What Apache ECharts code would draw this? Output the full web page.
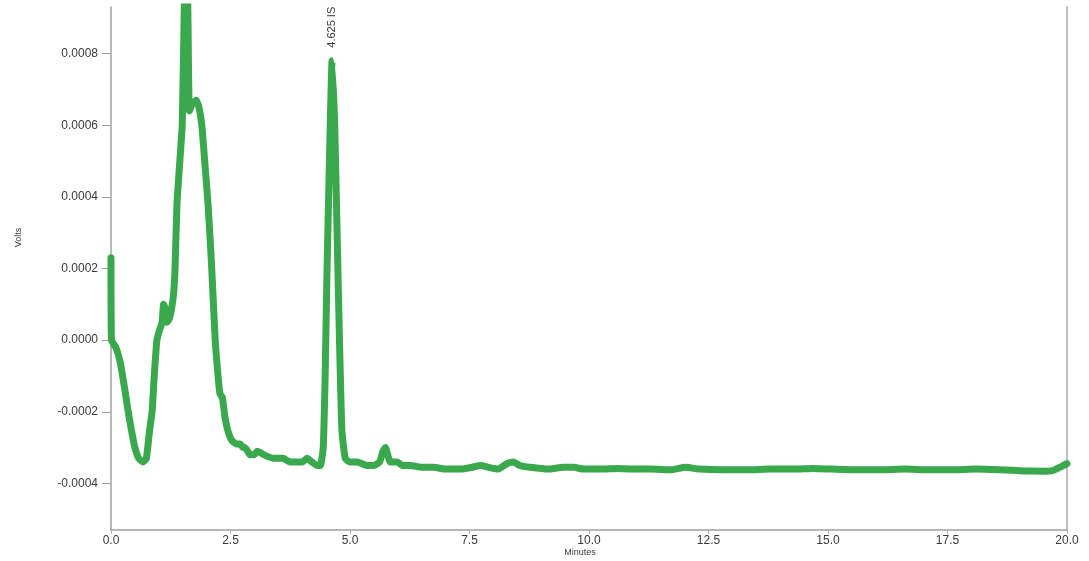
<!DOCTYPE html>
<html>
<head>
<meta charset="utf-8">
<script src="https://cdn.jsdelivr.net/npm/echarts@6/dist/echarts.min.js"></script>
<style>
  html, body { margin: 0; padding: 0; background: #ffffff; }
  #chart { width: 1089px; height: 561px; }
</style>
</head>
<body>
<div id="chart"></div>
<script>
// Retention time (minutes) of each detector sample
const minutes = [
  0, 0.01, 0.1, 0.19, 0.28, 0.36, 0.44, 0.5, 0.58, 0.67, 0.74, 0.8, 0.86, 0.9, 0.96,
  1.02, 1.07, 1.1, 1.13, 1.17, 1.22, 1.27, 1.31, 1.34, 1.38, 1.44, 1.49, 1.53, 1.57,
  1.61, 1.64, 1.7, 1.78, 1.84, 1.9, 1.96, 2.03, 2.1, 2.18, 2.24, 2.28, 2.33, 2.39,
  2.46, 2.53, 2.62, 2.7, 2.76, 2.8, 2.86, 2.91, 3.0, 3.06, 3.2, 3.4, 3.6, 3.75, 3.9,
  4.0, 4.1, 4.2, 4.31, 4.38, 4.44, 4.48, 4.52, 4.57, 4.625, 4.68, 4.73, 4.78, 4.83,
  4.9, 5.0, 5.15, 5.36, 5.5, 5.62, 5.69, 5.74, 5.79, 5.84, 5.92, 5.99, 6.1, 6.26,
  6.5, 6.75, 7.0, 7.31, 7.55, 7.73, 7.9, 8.1, 8.28, 8.42, 8.55, 8.77, 9.13, 9.47,
  9.68, 9.89, 10.24, 10.6, 10.9, 11.3, 11.7, 12.02, 12.3, 12.8, 13.3, 13.8, 14.3,
  14.7, 15.1, 15.6, 16.1, 16.6, 17.1, 17.6, 18.1, 18.6, 19.1, 19.5, 19.7, 19.85, 20.0
];

// Detector response (volts) at each of those times
const volts = [
  0.00023, 0.0, -0.00002, -0.00006, -0.00013, -0.0002, -0.00026, -0.0003, -0.00033, -0.00034, -0.00033, -0.00026, -0.0002, -0.00011, 0.0,
  0.00003, 0.00005, 0.0001, 0.00009, 0.00005, 0.00006, 0.00009, 0.00013, 0.0002, 0.00038, 0.0005, 0.0006, 0.0009, 0.0012,
  0.0009, 0.00064, 0.00066, 0.00067, 0.00065, 0.0006, 0.0005, 0.00038, 0.00022, 0.0, -0.0001, -0.00015, -0.00016, -0.00022,
  -0.00026, -0.00028, -0.00029, -0.00029, -0.0003, -0.0003, -0.00031, -0.00032, -0.00032, -0.00031, -0.00032, -0.00033, -0.00033, -0.00034, -0.00034,
  -0.00034, -0.00033, -0.00034, -0.00035, -0.00035, -0.0003, -0.0001, 0.0002, 0.0005, 0.00078, 0.0006, 0.0003, 0.0, -0.00025,
  -0.00033, -0.00034, -0.00034, -0.00035, -0.00035, -0.00034, -0.00031, -0.0003, -0.00032, -0.00034, -0.00034, -0.00034, -0.00035, -0.00035,
  -0.000355, -0.000355, -0.00036, -0.00036, -0.000355, -0.00035, -0.000355, -0.00036, -0.000345, -0.00034, -0.00035, -0.000355, -0.00036, -0.000355,
  -0.000355, -0.00036, -0.00036, -0.000358, -0.00036, -0.00036, -0.000362, -0.000355, -0.00036, -0.000362, -0.000362, -0.00036, -0.00036,
  -0.000358, -0.00036, -0.000362, -0.000362, -0.00036, -0.000362, -0.000362, -0.00036, -0.000362, -0.000365, -0.000366, -0.000364, -0.000355, -0.000345
];

// Axis tick values
const yTicks = [-0.0004, -0.0002, 0.0, 0.0002, 0.0004, 0.0006, 0.0008];
const xTicks = [0, 2.5, 5, 7.5, 10, 12.5, 15, 17.5, 20];

// Labelled peak: retention time and name
const peakTime = 4.625;
const peakName = 'IS';

const yMin = -0.00053;
const yMax = 0.00093;

const trace = minutes.map((t, i) => [t, volts[i]]);
const peakVolts = volts[minutes.indexOf(peakTime)];

const chart = echarts.init(document.getElementById('chart'));
const labelFont = { fontFamily: 'Liberation Sans, Arial, sans-serif', color: '#3a3a3a' };

chart.setOption({
  animation: false,
  backgroundColor: '#ffffff',
  grid: { left: 111, right: 22, top: 7, bottom: 31, outerBoundsMode: 'none', containLabel: false },
  xAxis: {
    type: 'value',
    min: 0,
    max: 20,
    interval: 2.5,
    name: 'Minutes',
    nameLocation: 'middle',
    nameGap: 18,
    nameMoveOverlap: false,
    nameTextStyle: Object.assign({ fontSize: 9, padding: [0, 18, 0, 0] }, labelFont),
    axisLine: { show: true, onZero: false, lineStyle: { color: '#a0a0a0', width: 1.5 } },
    axisTick: { show: true, length: 4, lineStyle: { color: '#b0b0b0' }, customValues: xTicks },
    axisLabel: Object.assign({
      fontSize: 12,
      margin: 5,
      customValues: xTicks,
      formatter: v => v.toFixed(1)
    }, labelFont),
    splitLine: { show: false }
  },
  yAxis: [{
    type: 'value',
    min: yMin,
    max: yMax,
    name: 'Volts',
    nameLocation: 'middle',
    nameGap: 88,
    nameMoveOverlap: false,
    nameTextStyle: Object.assign({ fontSize: 9, padding: [0, 0, 0, 62] }, labelFont),
    axisLine: { show: true, onZero: false, lineStyle: { color: '#a0a0a0', width: 1.5 } },
    axisTick: { show: true, length: 9, lineStyle: { color: '#a0a0a0' }, customValues: yTicks },
    axisLabel: Object.assign({
      fontSize: 12,
      margin: 13,
      customValues: yTicks,
      formatter: v => v.toFixed(4)
    }, labelFont),
    splitLine: { show: false }
  }, {
    type: 'value',
    position: 'right',
    min: yMin,
    max: yMax,
    axisLine: { show: true, onZero: false, lineStyle: { color: '#a8a8a8', width: 1.5 } },
    axisTick: { show: false },
    axisLabel: { show: false },
    splitLine: { show: false }
  }],
  series: [{
    type: 'line',
    data: trace,
    showSymbol: false,
    smooth: 0.15,
    clip: true,
    lineStyle: { color: '#3aa84c', width: 7, cap: 'round', join: 'round' },
    markPoint: {
      symbol: 'circle',
      symbolSize: 0,
      data: [{ coord: [peakTime, peakVolts] }],
      label: Object.assign({
        show: true,
        formatter: peakTime.toFixed(3) + ' ' + peakName,
        position: 'top',
        distance: 13,
        rotate: 90,
        align: 'left',
        verticalAlign: 'middle',
        fontSize: 11
      }, labelFont)
    }
  }]
});
</script>
</body>
</html>
